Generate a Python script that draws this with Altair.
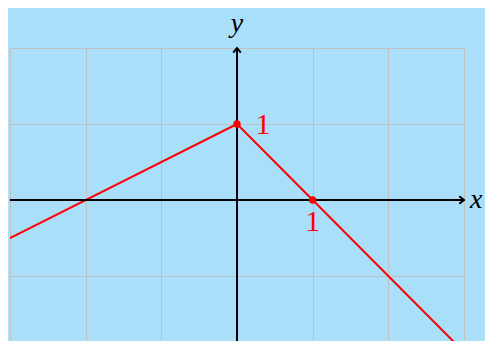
import altair as alt
import pandas as pd

# piecewise function y = 0.5x+1 (x<=0), y = 1-x (x>=0)
line_x = [-3, 0, 1, 3]
line_y = [-0.5, 1, 0, -2]

pt_x = [0, 1]
pt_y = [1, 0]
pt_label = ["1", "1"]

grid_ticks_x = [-3, -2, -1, 0, 1, 2, 3]
grid_ticks_y = [-2, -1, 0, 1, 2]

X_DOM = [-3, 3]
Y_DOM = [-1.855, 2]

BG = "#aadff9"
GRID = "#c0c0c0"
RED = "#ff0000"
FONT = "Liberation Serif"

line_df = pd.DataFrame({"x": line_x, "y": line_y})
pts_df = pd.DataFrame({"x": pt_x, "y": pt_y, "t": pt_label})

xs = alt.Scale(domain=X_DOM, nice=False, zero=False)
ys = alt.Scale(domain=Y_DOM, nice=False, zero=False)
xax = alt.Axis(values=grid_ticks_x, labels=False, ticks=False, domain=False, title=None,
               grid=True, gridColor=GRID, gridWidth=1, minExtent=0, maxExtent=0)
yax = alt.Axis(values=grid_ticks_y, labels=False, ticks=False, domain=False, title=None,
               grid=True, gridColor=GRID, gridWidth=1, minExtent=0, maxExtent=0)


def X(f):
    return alt.X(f, type="quantitative", scale=xs, axis=xax)


def Y(f):
    return alt.Y(f, type="quantitative", scale=ys, axis=yax)


axes_df = pd.DataFrame({
    "x1": [X_DOM[0], 0], "x2": [X_DOM[1], 0],
    "y1": [0, Y_DOM[0]], "y2": [0, Y_DOM[1]],
})
axis_lines = alt.Chart(axes_df).mark_rule(color="black", strokeWidth=2).encode(
    x=X("x1"), x2="x2", y=Y("y1"), y2="y2",
)

arrow_path = "M-1,-0.8 L0,0 L-1,0.8"
arr_x = alt.Chart(pd.DataFrame({"x": [X_DOM[1]], "y": [0]})).mark_point(
    shape=arrow_path, size=90, filled=False, color="black", strokeWidth=2, opacity=1
).encode(x=X("x"), y=Y("y"))
arr_y = alt.Chart(pd.DataFrame({"x": [0], "y": [Y_DOM[1]]})).mark_point(
    shape=arrow_path, size=90, filled=False, color="black", strokeWidth=2, opacity=1, angle=270
).encode(x=X("x"), y=Y("y"))

curve = alt.Chart(line_df).mark_line(color=RED, strokeWidth=2, clip=True).encode(
    x=X("x"), y=Y("y"), order="x:Q"
)

dots = alt.Chart(pts_df).mark_circle(color=RED, size=55, opacity=1).encode(
    x=X("x"), y=Y("y")
)

lab1 = alt.Chart(pts_df.iloc[[0]]).mark_text(
    font=FONT, fontSize=30, color=RED, dx=26, dy=1, align="center", baseline="middle"
).encode(x=X("x"), y=Y("y"), text="t:N")
lab2 = alt.Chart(pts_df.iloc[[1]]).mark_text(
    font=FONT, fontSize=30, color=RED, dx=0, dy=22, align="center", baseline="middle"
).encode(x=X("x"), y=Y("y"), text="t:N")

names_df = pd.DataFrame({"x": [3.16, 0], "y": [0, 2.31], "t": ["x", "y"]})
names = alt.Chart(names_df).mark_text(
    font=FONT, fontSize=28, fontStyle="italic", color="black", align="center", baseline="middle"
).encode(x=X("x"), y=Y("y"), text="t:N")

chart = alt.layer(curve, axis_lines, arr_x, arr_y, dots, lab1, lab2, names).properties(
    width=454, height=293,
    background=BG,
    padding={"left": 2, "top": 40, "right": 21, "bottom": 0},
    autosize=alt.AutoSizeParams(type="none"),
).configure_view(stroke=None)

chart.save("out.html", embed_options={"renderer": "svg", "actions": False})
